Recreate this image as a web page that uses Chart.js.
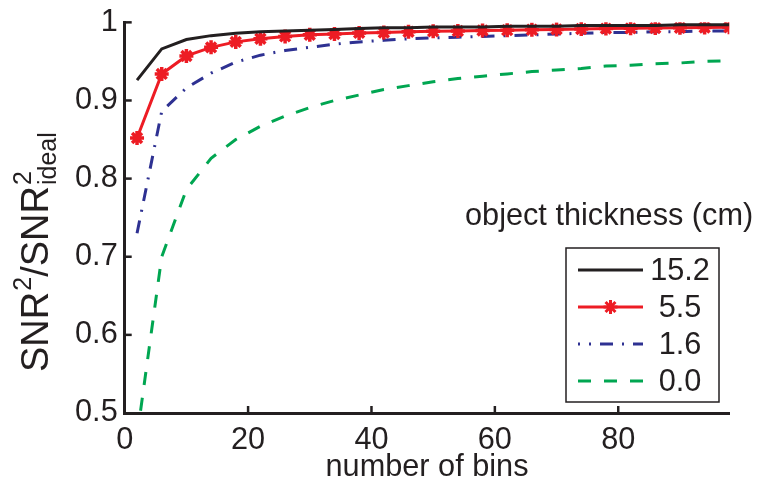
<!DOCTYPE html>
<html>
<head>
<meta charset="utf-8">
<script src="https://cdn.jsdelivr.net/npm/chart.js@4/dist/chart.umd.min.js"></script>
<style>
html,body{margin:0;padding:0;background:#fff;}
#wrap{width:757px;height:487px;position:relative;}
</style>
</head>
<body>
<div id="wrap"><canvas id="c" width="757" height="487"></canvas></div>
<script>
// ---- data ----
const bins = [2,6,10,14,18,22,26,30,34,38,42,46,50,54,58,62,66,70,74,78,82,86,90,94,98];
const thick152 = [0.926,0.966,0.978,0.983,0.986,0.988,0.989,0.990,0.991,0.992,0.993,0.993,0.994,0.994,0.994,0.995,0.995,0.995,0.996,0.996,0.996,0.996,0.997,0.997,0.997];
const thick55 = [0.852,0.934,0.957,0.968,0.975,0.979,0.982,0.984,0.985,0.9865,0.987,0.988,0.9885,0.989,0.9895,0.990,0.9905,0.991,0.9915,0.992,0.9923,0.9927,0.993,0.9933,0.9937];
const thick16 = [0.730,0.886,0.916,0.935,0.949,0.958,0.964,0.968,0.972,0.975,0.977,0.979,0.980,0.981,0.982,0.983,0.984,0.985,0.986,0.987,0.987,0.988,0.988,0.989,0.989];
const thick00 = [0.47,0.70,0.786,0.826,0.850,0.867,0.880,0.891,0.900,0.907,0.914,0.919,0.924,0.928,0.931,0.934,0.937,0.939,0.941,0.944,0.945,0.947,0.948,0.950,0.951];
const seriesLabels = ['15.2','5.5','1.6','0.0'];
const legendTitle = 'object thickness (cm)';
const xTitle = 'number of bins';
const xTicks = [0,20,40,60,80];
const yTicks = [0.5,0.6,0.7,0.8,0.9,1];

const FONT = '"Liberation Sans", Arial, Helvetica, sans-serif';
const FS = 30.7;
const INK = '#231f20';
const COLORS = ['#231f20','#ed1c24','#2e3192','#00a651'];
const DASHES = [[],[],[13,9,2,9],[13,13]];

function pts(vals){ return bins.map((b,i)=>({x:b,y:vals[i]})); }

const decor = {
  id:'decor',
  afterDraw(chart){
    const ctx = chart.ctx;
    const xs = chart.scales.x, ys = chart.scales.y;
    const ca = chart.chartArea;
    ctx.save();
    // inward ticks
    ctx.strokeStyle = INK; ctx.lineWidth = 2.5;
    xs.ticks.forEach(t=>{
      if (t.value === xs.min) return;
      const px = xs.getPixelForValue(t.value);
      ctx.beginPath(); ctx.moveTo(px, ca.bottom); ctx.lineTo(px, ca.bottom-7); ctx.stroke();
    });
    ys.ticks.forEach(t=>{
      if (t.value === ys.min) return;
      const py = ys.getPixelForValue(t.value);
      ctx.beginPath(); ctx.moveTo(ca.left, py); ctx.lineTo(ca.left+7, py); ctx.stroke();
    });
    // x title
    ctx.fillStyle = INK;
    ctx.font = FS + 'px ' + FONT;
    ctx.textAlign = 'center'; ctx.textBaseline = 'alphabetic';
    ctx.fillText(xTitle, (ca.left+ca.right)/2, 476);
    // y title with super/subscripts
    ctx.save();
    ctx.translate(48, 372);
    ctx.rotate(-Math.PI/2);
    ctx.textAlign = 'left';
    const big = '38px ' + FONT, small = '25px ' + FONT;
    let x = 0;
    ctx.font = big; ctx.fillText('SNR', x, 0); x += ctx.measureText('SNR').width;
    ctx.font = small; ctx.fillText('2', x+1, -17); x += ctx.measureText('2').width + 1;
    ctx.font = big; ctx.fillText('/SNR', x, 0); x += ctx.measureText('/SNR').width;
    ctx.font = small; ctx.fillText('2', x+1, -17); ctx.fillText('ideal', x+1, 8);
    ctx.restore();
    // legend title
    ctx.font = FS + 'px ' + FONT;
    ctx.textAlign = 'left'; ctx.textBaseline = 'alphabetic';
    ctx.fillText(legendTitle, 465, 225);
    // legend box
    ctx.fillStyle = '#fff';
    ctx.fillRect(566, 248, 153, 154);
    ctx.strokeStyle = INK; ctx.lineWidth = 1.5;
    ctx.strokeRect(566, 248, 153, 154);
    const rows = [270, 307, 344, 381];
    chart.data.datasets.forEach((ds,i)=>{
      const y = rows[i];
      ctx.save();
      ctx.strokeStyle = ds.borderColor; ctx.lineWidth = 3;
      ctx.setLineDash(DASHES[i]);
      if (i===2) ctx.lineDashOffset = 11;
      ctx.beginPath(); ctx.moveTo(578, y); ctx.lineTo(643, y); ctx.stroke();
      ctx.restore();
      if (i===1){
        ctx.save();
        ctx.strokeStyle = ds.borderColor; ctx.fillStyle = ds.borderColor; ctx.lineWidth = 3;
        Chart.helpers.drawPoint(ctx, {pointStyle:'star', radius:7, borderWidth:3, rotation:0}, 610.5, y);
        ctx.restore();
      }
      ctx.fillStyle = INK;
      ctx.font = FS + 'px ' + FONT;
      ctx.textAlign = 'center'; ctx.textBaseline = 'middle';
      ctx.fillText(seriesLabels[i], 680, y+2);
    });
    ctx.restore();
  }
};

new Chart(document.getElementById('c'), {
  type:'line',
  data:{
    datasets:[
      {label:seriesLabels[0], data:pts(thick152), borderColor:COLORS[0], borderWidth:3, pointRadius:0, tension:0},
      {label:seriesLabels[1], data:pts(thick55), borderColor:COLORS[1], backgroundColor:COLORS[1], borderWidth:3,
        pointStyle:'star', pointRadius:7, pointBorderWidth:3.5, pointBorderColor:COLORS[1], pointBackgroundColor:COLORS[1], tension:0},
      {label:seriesLabels[2], data:pts(thick16), borderColor:COLORS[2], borderWidth:3, borderDash:DASHES[2], pointRadius:0, tension:0},
      {label:seriesLabels[3], data:pts(thick00), borderColor:COLORS[3], borderWidth:3, borderDash:DASHES[3], pointRadius:0, tension:0}
    ]
  },
  options:{
    responsive:false,
    devicePixelRatio:1,
    animation:false,
    layout:{padding:{left:0, right:27.7, top:16, bottom:0}},
    plugins:{legend:{display:false}, tooltip:{enabled:false}},
    scales:{
      x:{
        type:'linear', min:0, max:98,
        afterBuildTicks(s){ s.ticks = xTicks.map(v=>({value:v})); },
        afterFit(s){ s.height = 74; },
        grid:{display:false, drawTicks:false},
        border:{display:true, color:INK, width:3},
        ticks:{color:INK, font:{family:FONT, size:FS, lineHeight:1}, padding:12, includeBounds:false, maxRotation:0}
      },
      y:{
        type:'linear', min:0.5, max:1,
        afterBuildTicks(s){ s.ticks = yTicks.map(v=>({value:v})); },
        afterFit(s){ s.width = 124.7; },
        grid:{display:false, drawTicks:false},
        border:{display:true, color:INK, width:3},
        ticks:{color:INK, font:{family:FONT, size:FS, lineHeight:1}, padding:7,
          callback:(v)=> String(Math.round(v*10)/10)}
      }
    }
  },
  plugins:[decor]
});
</script>
</body>
</html>
